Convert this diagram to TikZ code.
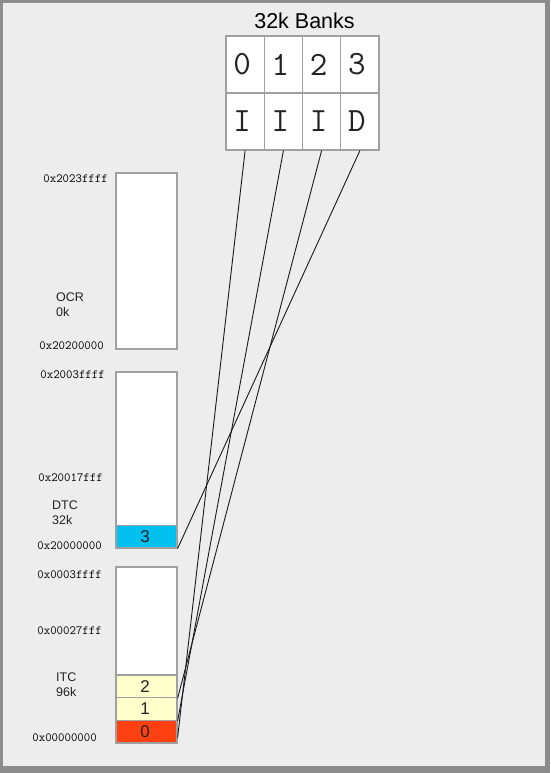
\documentclass[tikz,border=0pt]{standalone}
\usepackage{fontspec}
\setmainfont{Liberation Sans}
\usetikzlibrary{calc}
\definecolor{bg}{HTML}{EDEDED}
\definecolor{frame}{HTML}{8C8C8C}
\definecolor{boxline}{HTML}{A0A0A0}
\definecolor{dtcblue}{HTML}{00C0F0}
\definecolor{itcyellow}{HTML}{FFFFCC}
\definecolor{itcred}{HTML}{FF4010}
\definecolor{txt}{HTML}{222222}
\begin{document}
\begin{tikzpicture}[x=1pt,y=-1pt,
  cell/.style={draw=boxline, line width=1.3pt, fill=white, minimum width=38.25pt,
    minimum height=57pt, inner sep=0pt, font=\fontsize{34}{34}\ttfamily, text=txt},
  membox/.style={draw=boxline, line width=1.2pt, fill=white, minimum width=61pt,
    minimum height=176pt, inner sep=0pt},
  seg/.style={draw=boxline, line width=1.2pt, minimum width=61pt,
    minimum height=22.67pt, inner sep=0pt, font=\fontsize{17}{17}\selectfont, text=txt},
  addr/.style={anchor=east, inner sep=0pt, font=\fontsize{12.5}{13}\ttfamily, text=black},
  region/.style={anchor=north west, inner sep=0pt, align=left,
    font=\fontsize{12.5}{15.2}\selectfont, text=txt},
  conn/.style={draw=black!90, line width=0.9pt}
]
\fill[frame] (0,0) rectangle (550,773);
\fill[black!45] (0,768) rectangle (550,773);
\fill[black!45] (546,0) rectangle (550,773);
\fill[bg] (3,3) rectangle (545,766);
\useasboundingbox (0,0) rectangle (550,773);

% title
\node[anchor=base, inner sep=0pt, font=\fontsize{21.5}{22}\selectfont, text=black] (title) at (304.5,28.3) {32k Banks};

% bank table
\node[cell] (b0) at (245.1,64.5) {0\kern6pt};
\node[cell] (b1) at (283.4,64.5) {1\kern6pt};
\node[cell] (b2) at (321.6,64.5) {2\kern6pt};
\node[cell] (b3) at (359.9,64.5) {3\kern6pt};
\node[cell] (c0) at (245.1,121.5) {I\kern6pt};
\node[cell] (c1) at (283.4,121.5) {I\kern6pt};
\node[cell] (c2) at (321.6,121.5) {I\kern6pt};
\node[cell] (c3) at (359.9,121.5) {D\kern6pt};

% memory regions
\node[membox] (ocr) at (146.5,261) {};
\node[membox] (dtc) at (146.5,460) {};
\node[membox] (itc) at (146.5,655) {};

\node[seg, fill=dtcblue] (s3) at (146.5,536.6) {3\kern3pt};
\node[seg, fill=itcyellow] (s2) at (146.5,686.3) {2\kern3pt};
\node[seg, fill=itcyellow] (s1) at (146.5,709.0) {1\kern3pt};
\node[seg, fill=itcred] (s0) at (146.5,731.7) {0\kern3pt};

% addresses
\node[addr] (a1) at (108,179) {0x2023ffff};
\node[addr] (a2) at (104,346) {0x20200000};
\node[addr] (a3) at (105,375) {0x2003ffff};
\node[addr] (a4) at (103,478) {0x20017fff};
\node[addr] (a5) at (102,546) {0x20000000};
\node[addr] (a6) at (102,575) {0x0003ffff};
\node[addr] (a7) at (102,631) {0x00027fff};
\node[addr] (a8) at (97,738) {0x00000000};

% region names
\node[region] (nocr) at (56,292.7) {OCR\\0k};
\node[region] (ndtc) at (52,500.7) {DTC\\32k};
\node[region] (nitc) at (56,672.3) {ITC\\96k};

% connectors
\draw[conn] (c0.south) -- ($(s0.east)!0.5!(s0.south east)$);
\draw[conn] (c1.south) -- (s1.south east);
\draw[conn] (c2.south) -- (s2.south east);
\draw[conn] (c3.south) -- (s3.south east);
\end{tikzpicture}
\end{document}
